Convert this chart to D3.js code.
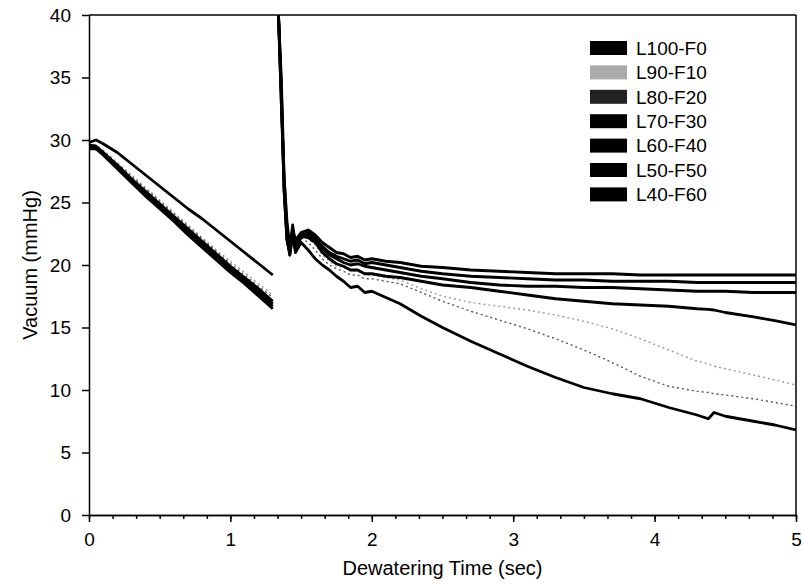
<!DOCTYPE html>
<html>
<head>
<meta charset="utf-8">
<script src="https://cdn.jsdelivr.net/npm/d3@7/dist/d3.min.js"></script>
<style>
body { margin: 0; background: #fff; }
svg text { font-family: "Liberation Sans", Arial, sans-serif; fill: #000; }
</style>
</head>
<body>
<div class="chart"></div>
<script>
// series names, same order as legend
var seriesNames = ["L100-F0", "L90-F10", "L80-F20", "L70-F30", "L60-F40", "L50-F50", "L40-F60"];

var xTicks = [0, 1, 2, 3, 4, 5];
var yTicks = [0, 5, 10, 15, 20, 25, 30, 35, 40];

// first part of the run (sec)
var timeLeft = [0, 0.05, 0.1, 0.2, 0.3, 0.4, 0.5, 0.6, 0.7, 0.8, 0.9, 1.0, 1.1, 1.2, 1.3];

// second part, after the vacuum spike (sec)
var timeRight = [1.34, 1.36, 1.38, 1.40, 1.42, 1.44, 1.46, 1.50, 1.55, 1.60, 1.65, 1.70, 1.75, 1.80, 1.85, 1.90, 1.95, 2.00,
  2.10, 2.20, 2.35, 2.50, 2.70, 2.90, 3.10, 3.30, 3.50, 3.70, 3.90, 4.10, 4.30, 4.38, 4.42, 4.50, 4.70, 4.85, 5.00];

// vacuum (mmHg), one row per series
var vacuumLeft = [
  [29.8, 30.0, 29.7, 29.0, 28.1, 27.2, 26.3, 25.4, 24.5, 23.7, 22.8, 21.9, 21.0, 20.1, 19.2],
  [29.6, 29.6, 29.2, 28.2, 27.2, 26.2, 25.2, 24.2, 23.2, 22.2, 21.2, 20.3, 19.4, 18.5, 17.6],
  [29.5, 29.5, 29.1, 28.1, 27.1, 26.1, 25.1, 24.1, 23.1, 22.1, 21.1, 20.1, 19.2, 18.3, 17.4],
  [29.4, 29.4, 29.0, 28.0, 26.9, 25.9, 24.9, 23.9, 22.9, 21.9, 20.9, 19.9, 19.0, 18.1, 17.1],
  [29.3, 29.3, 28.9, 27.9, 26.8, 25.8, 24.8, 23.7, 22.7, 21.7, 20.7, 19.7, 18.8, 17.9, 16.9],
  [29.6, 29.5, 29.0, 27.9, 26.8, 25.7, 24.6, 23.6, 22.6, 21.6, 20.6, 19.6, 18.6, 17.7, 16.7],
  [29.4, 29.3, 28.8, 27.7, 26.6, 25.5, 24.5, 23.5, 22.4, 21.4, 20.4, 19.4, 18.5, 17.5, 16.5]
];

var vacuumRight = [
  [40, 35, 27, 23.5, 21.5, 22.8, 22.0, 22.6, 22.8, 22.4, 21.8, 21.4, 21.0, 20.9, 20.6, 20.7, 20.4, 20.5,
   20.3, 20.2, 19.9, 19.8, 19.6, 19.5, 19.4, 19.3, 19.3, 19.3, 19.2, 19.2, 19.2, 19.2, 19.2, 19.2, 19.2, 19.2, 19.2],
  [40, 35, 27, 22.4, 21.2, 22.7, 21.5, 22.5, 22.1, 21.6, 20.8, 20.3, 19.9, 19.8, 19.5, 19.5, 19.2, 19.2,
   19.0, 18.8, 18.1, 17.5, 17.0, 16.7, 16.4, 16.0, 15.5, 14.9, 14.1, 13.2, 12.3, 12.1, 11.9, 11.7, 11.2, 10.8, 10.4],
  [40, 34, 26, 22.6, 21.0, 22.5, 21.3, 22.2, 21.8, 21.2, 20.5, 20.0, 19.7, 19.5, 19.2, 19.2, 18.9, 18.9,
   18.7, 18.5, 17.8, 17.1, 16.3, 15.6, 14.9, 14.1, 13.2, 12.2, 11.1, 10.3, 9.9, 9.8, 9.7, 9.6, 9.3, 9.0, 8.7],
  [40, 34, 26, 22.0, 21.0, 23.2, 21.6, 22.4, 22.6, 22.2, 21.5, 21.0, 20.7, 20.5, 20.3, 20.4, 20.1, 20.2,
   20.0, 19.8, 19.5, 19.3, 19.1, 19.0, 18.9, 18.8, 18.8, 18.7, 18.7, 18.7, 18.6, 18.6, 18.6, 18.6, 18.6, 18.6, 18.6],
  [40, 33, 27, 22.8, 20.8, 22.6, 21.2, 22.2, 22.4, 22.0, 21.3, 20.8, 20.5, 20.2, 20.0, 20.1, 19.9, 19.8,
   19.6, 19.4, 19.1, 18.9, 18.6, 18.4, 18.3, 18.3, 18.2, 18.2, 18.1, 18.0, 17.9, 17.9, 17.9, 17.9, 17.8, 17.8, 17.8],
  [40, 34, 26, 22.2, 21.0, 22.9, 21.4, 22.3, 22.2, 21.8, 21.0, 20.5, 20.1, 19.9, 19.6, 19.6, 19.3, 19.3,
   19.1, 19.0, 18.7, 18.4, 18.2, 17.9, 17.6, 17.3, 17.1, 16.9, 16.8, 16.7, 16.5, 16.45, 16.4, 16.2, 15.85, 15.55, 15.2],
  [40, 33, 26, 22.0, 20.8, 22.4, 21.0, 21.8, 21.2, 20.5, 20.0, 19.6, 19.1, 18.7, 18.2, 18.3, 17.8, 17.9,
   17.4, 16.9, 15.9, 15.0, 13.9, 12.9, 11.9, 11.0, 10.2, 9.7, 9.3, 8.6, 8.0, 7.7, 8.2, 7.9, 7.5, 7.2, 6.8]
];

// styles
var lineColors = ["#000", "#9a9a9a", "#555", "#000", "#000", "#000", "#000"];
var lineDash = [null, "2,3", "2,3", null, null, null, null];
var lineWidth = [2.8, 1.4, 1.4, 2.8, 2.8, 2.8, 2.8];
var swatchColors = ["#000", "#aaa", "#222", "#000", "#000", "#000", "#000"];

var W = 804, H = 584;
var margin = {top: 15, right: 8, bottom: 69, left: 89};

var xScale = d3.scaleLinear().domain([0, 5]).range([margin.left, W - margin.right]);
var yScale = d3.scaleLinear().domain([0, 40]).range([H - margin.bottom, margin.top]);

var svg = d3.select(".chart").append("svg")
  .attr("width", W)
  .attr("height", H);

svg.append("clipPath").attr("id", "plotclip")
  .append("rect")
    .attr("x", xScale(0)).attr("y", yScale(40))
    .attr("width", xScale(5) - xScale(0))
    .attr("height", yScale(0) - yScale(40));

// build point lists; a null between the two parts breaks the line
var series = seriesNames.map(function(name, i) {
  var pts = timeLeft.map(function(t, j) { return [t, vacuumLeft[i][j]]; });
  pts.push(null);
  timeRight.forEach(function(t, j) { pts.push([t, vacuumRight[i][j]]); });
  return {name: name, pts: pts, i: i};
});

var line = d3.line()
  .defined(function(d) { return d !== null; })
  .x(function(d) { return xScale(d[0]); })
  .y(function(d) { return yScale(d[1]); });

// grey ones underneath
var drawOrder = [1, 2, 0, 3, 4, 5, 6];

svg.append("g").attr("clip-path", "url(#plotclip)")
  .selectAll("path")
  .data(drawOrder.map(function(k) { return series[k]; }))
  .enter().append("path")
    .attr("d", function(d) { return line(d.pts); })
    .attr("fill", "none")
    .attr("stroke", function(d) { return lineColors[d.i]; })
    .attr("stroke-width", function(d) { return lineWidth[d.i]; })
    .attr("stroke-dasharray", function(d) { return lineDash[d.i]; })
    .attr("stroke-linejoin", "round");

// axes
var xAxis = d3.axisBottom(xScale).tickValues(xTicks).tickFormat(d3.format("d"))
  .tickSize(7).tickSizeOuter(0).tickPadding(11);
var xMinor = d3.axisBottom(xScale).tickValues(d3.range(0, 31).map(function(k) { return k / 6; }))
  .tickFormat("").tickSize(4).tickSizeOuter(0);
var yAxis = d3.axisLeft(yScale).tickValues(yTicks).tickSize(7).tickSizeOuter(0).tickPadding(11);

var gxm = svg.append("g").attr("transform", "translate(0," + yScale(0) + ")").call(xMinor);
var gx = svg.append("g").attr("transform", "translate(0," + yScale(0) + ")").call(xAxis);
var gy = svg.append("g").attr("transform", "translate(" + xScale(0) + ",0)").call(yAxis);

[gx, gy, gxm].forEach(function(g) {
  g.selectAll("line").attr("stroke", "#000").attr("stroke-width", 1.5);
  g.select(".domain").attr("stroke", "#000").attr("stroke-width", 1.5);
  g.selectAll("text").style("font-size", "19px").attr("fill", "#000");
});

// frame top and right
svg.append("line")
  .attr("x1", xScale(0)).attr("x2", xScale(5))
  .attr("y1", yScale(40)).attr("y2", yScale(40))
  .attr("stroke", "#000").attr("stroke-width", 1.5);
svg.append("line")
  .attr("x1", xScale(5)).attr("x2", xScale(5))
  .attr("y1", yScale(40)).attr("y2", yScale(0))
  .attr("stroke", "#000").attr("stroke-width", 1.5);

// titles
svg.append("text")
  .attr("x", (xScale(0) + xScale(5)) / 2)
  .attr("y", 575)
  .attr("text-anchor", "middle")
  .style("font-size", "20px")
  .text("Dewatering Time (sec)");

svg.append("text")
  .attr("transform", "translate(37," + yScale(20) + ") rotate(-90)")
  .attr("text-anchor", "middle")
  .style("font-size", "20px")
  .text("Vacuum (mmHg)");

// legend
var legend = svg.append("g").attr("transform", "translate(590,41)");
var rows = legend.selectAll("g").data(seriesNames).enter().append("g")
  .attr("transform", function(d, i) { return "translate(0," + (i * 24.4) + ")"; });
rows.append("rect")
  .attr("width", 37).attr("height", 14)
  .attr("fill", function(d, i) { return swatchColors[i]; });
rows.append("text")
  .attr("x", 46).attr("y", 7).attr("dy", "0.36em")
  .style("font-size", "19px")
  .text(function(d) { return d; });
</script>
</body>
</html>
